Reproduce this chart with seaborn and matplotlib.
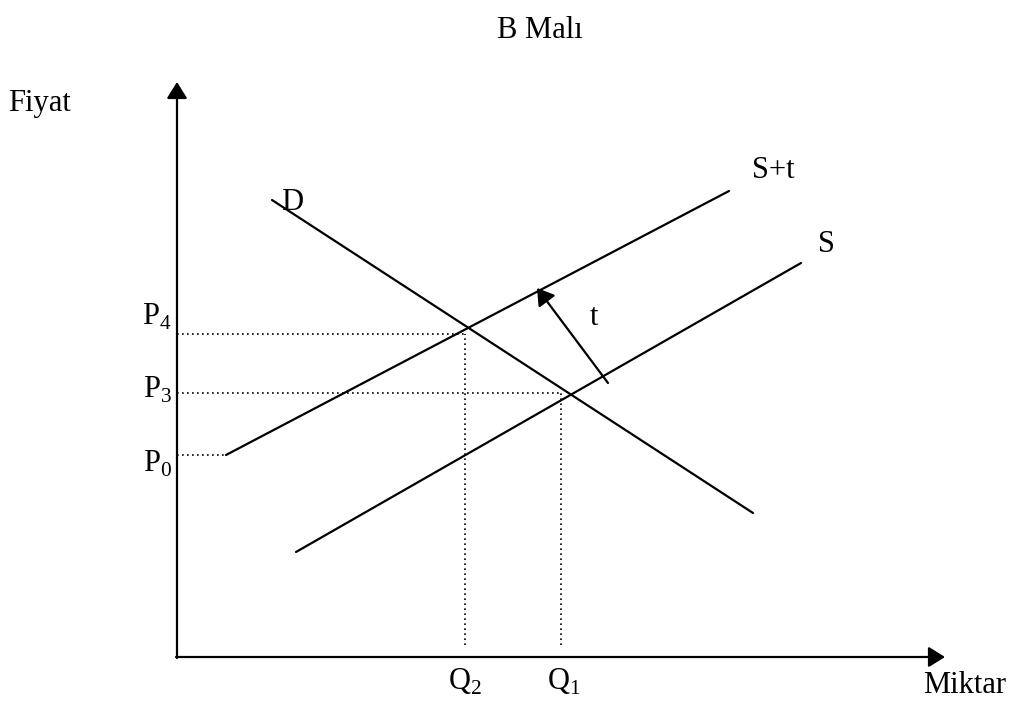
import matplotlib
matplotlib.use("Agg")
import matplotlib.pyplot as plt
import pandas as pd
import seaborn as sns

# curve endpoints (quantity, price) in diagram units
demand_q = [95, 576]
demand_p = [457, 144]
supply_q = [119, 624]
supply_p = [105, 394]
supply_tax_q = [49, 552]
supply_tax_p = [202, 466]

# dotted guide lines
price_levels = [323, 264, 202]          # P4, P3, P0
price_ends = [288, 384, 49]
price_labels = [r"P$_\mathrm{4}$", r"P$_\mathrm{3}$", r"P$_\mathrm{0}$"]
price_label_y = [332, 259, 185]
quantity_levels = [288, 384]            # Q2, Q1
quantity_tops = [323, 264]
quantity_labels = [r"Q$_\mathrm{2}$", r"Q$_\mathrm{1}$"]
quantity_label_x = [271, 370]
guide_bottom = 12

# tax shift arrow
tax_tail = (431, 274)
tax_head = (360, 369)

axis_max_q = 768
axis_max_p = 575

sns.set_theme(style="white")
plt.rcParams["font.family"] = ["Liberation Serif", "DejaVu Serif"]
plt.rcParams["mathtext.fontset"] = "custom"
plt.rcParams["mathtext.rm"] = "Liberation Serif"
plt.rcParams["text.color"] = "black"

fig = plt.figure(figsize=(10.18, 7.06), dpi=100)
ax = fig.add_axes([0, 0, 1, 1])
ax.set_xlim(-177, 841)
ax.set_ylim(-49, 657)
ax.axis("off")

curves = pd.DataFrame({
    "q": demand_q + supply_q + supply_tax_q,
    "p": demand_p + supply_p + supply_tax_p,
    "curve": ["D"] * 2 + ["S"] * 2 + ["S+t"] * 2,
})
sns.lineplot(data=curves, x="q", y="p", hue="curve", units="curve",
             estimator=None, sort=False, palette=["black"] * 3,
             linewidth=1.6, legend=False, ax=ax)

dot = dict(color="black", linewidth=1.2, linestyle=(0, (1, 2)))
for level, end in zip(price_levels, price_ends):
    ax.plot([0, end], [level, level], **dot)
for level, top in zip(quantity_levels, quantity_tops):
    ax.plot([level, level], [guide_bottom, top], **dot)

head = "-|>,head_length=0.4,head_width=0.25"
arrow = dict(arrowstyle=head, mutation_scale=25, color="black", lw=1.6,
             shrinkA=0, shrinkB=0)
ax.annotate("", xy=(axis_max_q, 0), xytext=(-1, 0), arrowprops=arrow)
ax.annotate("", xy=(0, axis_max_p), xytext=(0, -1), arrowprops=arrow)
ax.annotate("", xy=tax_head, xytext=tax_tail, arrowprops=arrow)

fs = 22
for lab, y in zip(price_labels, price_label_y):
    ax.text(-5, y, lab, fontsize=fs, ha="right", va="baseline")
for lab, x in zip(quantity_labels, quantity_label_x):
    ax.text(x, -33, lab, fontsize=fs, ha="left", va="baseline")

ax.text(363, 627, "B Malı", fontsize=fs, ha="center", va="center")
ax.text(-169, 546, "Fiyat", fontsize=fs, ha="left", va="baseline")
ax.text(746, -36, "Miktar", fontsize=fs, ha="left", va="baseline")
ax.text(104, 447, "D", fontsize=fs, ha="left", va="baseline")
ax.text(575, 479, "S+t", fontsize=fs, ha="left", va="baseline")
ax.text(641, 405, "S", fontsize=fs, ha="left", va="baseline")
ax.text(413, 332, "t", fontsize=fs, ha="left", va="baseline")

fig.savefig("out.png", dpi=100)
